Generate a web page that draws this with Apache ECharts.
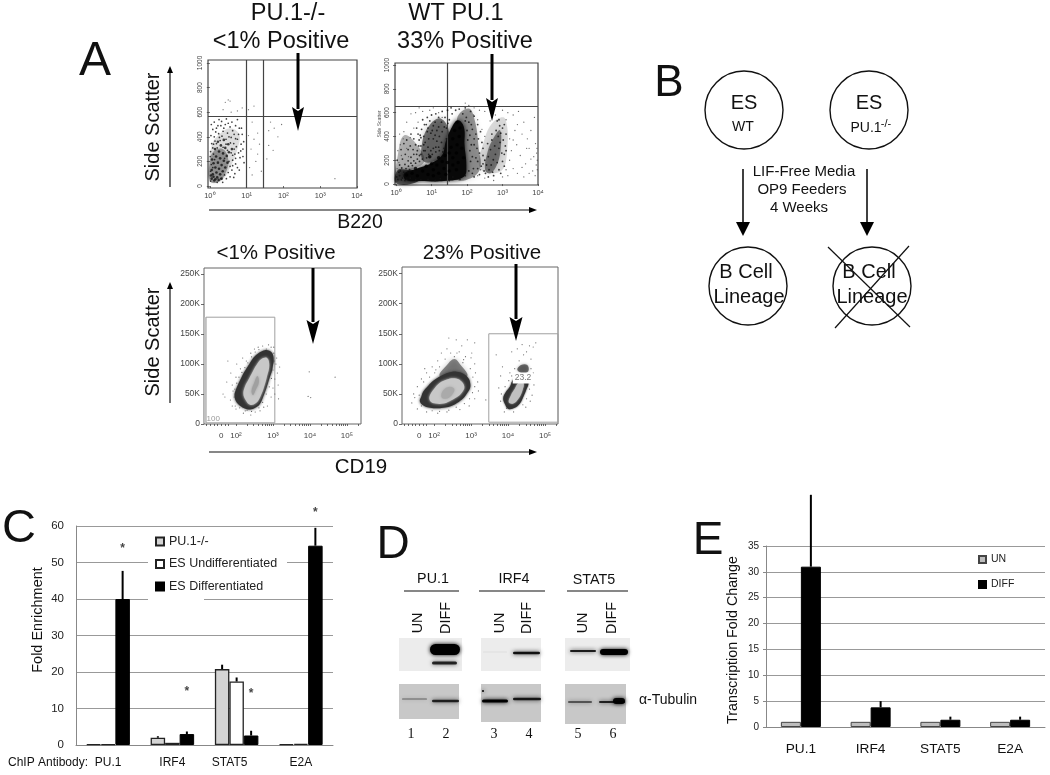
<!DOCTYPE html>
<html>
<head>
<meta charset="utf-8">
<title>PU.1 figure</title>
<script src="https://cdn.jsdelivr.net/npm/echarts@6/dist/echarts.min.js"></script>
<style>
  html, body { margin: 0; padding: 0; background: #fff; }
  #main { width: 1050px; height: 775px; }
</style>
</head>
<body>
<div id="main"></div>
<script>
// panel C
var cCategories = ['PU.1', 'IRF4', 'STAT5', 'E2A'];
var cKnockout = [0.2, 2, 20.8, 0.2];
var cUndiff = [0.2, 0.6, 17.4, 0.3];
var cDiff = [40, 3, 2.6, 54.6];
var cKnockoutTop = [0.2, 2.4, 22, 0.2];
var cUndiffTop = [0.2, 0.6, 18.5, 0.3];
var cDiffTop = [47.7, 3.7, 3.9, 59.5];
var cStars = [54, 14.8, 14.2, 63.8];

// panel E
var eCategories = ['PU.1', 'IRF4', 'STAT5', 'E2A'];
var eUn = [1, 1, 1, 1];
var eDiff = [31, 3.8, 1.4, 1.4];
var eDiffTop = [44.9, 5, 2, 2];

// panel A tick labels
var bXTicks = [0, 1, 2, 3, 4];
var bXLabels = ['10⁰', '10¹', '10²', '10³', '10⁴'];
var bYTicks = [0, 200, 400, 600, 800, 1000];
var cdXTicks = [1.6, 2, 3, 4, 5];
var cdXLabels = ['0', '10²', '10³', '10⁴', '10⁵'];
var cdXMinor = [1.2, 1.3, 1.4, 1.5, 1.6, 1.7, 1.8, 2, 2.3, 2.48, 2.6, 2.7, 2.78, 2.85, 2.9, 2.95, 3, 3.3, 3.48, 3.6, 3.7, 3.78, 3.85, 3.9, 3.95, 4, 4.3, 4.48, 4.6, 4.7, 4.78, 4.85, 4.9, 4.95, 5, 5.3];
var cdYTicks = [0, 50, 100, 150, 200, 250];
var cdYLabels = ['0', '50K', '100K', '150K', '200K', '250K'];

// panel A top left: log10 B220, side scatter
var a1Gates = [1.0, 1.46];
var a1GateY = 570;
var a1Haze = [[0,40],[.3,40],[.55,150],[.75,300],[.8,420],[.55,470],[.3,430],[.05,330]];
var a1Dense = [[0,40],[.25,35],[.45,120],[.5,220],[.35,300],[.1,280],[0,200]];
var a1Core = [[.05,60],[.12,45],[.2,70],[.08,95],[.18,110],[.28,95],[.05,130],[.15,150],[.25,140],[.35,120],[.1,185],[.22,190],[.32,170],[.42,150],[.06,215],[.17,240],[.28,225],[.38,205],[.48,190],[.25,280],[.36,265],[.46,245],[.14,300],[.3,330],[.42,310],[.52,275],[.22,360],[.38,375],[.5,340],[.6,300],[.03,85],[.1,75],[.15,55],[.24,50],[.32,60]];
var a1Mid = [[.02,40],[.08,150],[.3,60],[.4,90],[.5,110],[.55,160],[.62,210],[.68,260],[.72,320],[.75,380],[.66,420],[.58,395],[.48,430],[.36,445],[.24,425],[.12,400],[.05,345],[.02,280],[.1,260],[.2,310],[.33,405],[.44,380],[.56,350],[.65,345],[.78,270],[.82,230],[.7,180],[.6,130],[.45,60],[.55,75],[.68,100],[.75,150],[.85,340],[.88,420],[.8,470],[.7,490],[.55,480],[.42,500],[.3,490],[.18,470],[.08,460],[.03,410],[.6,520],[.45,545],[.25,540],[.12,520],[.75,540],[.9,300],[.93,190],[.35,30],[.2,30],[.62,250],[.48,290],[.4,225],[.1,340],[.28,370],[.52,400],[.16,440],[.04,500],[.32,525],[.66,300],[.58,270],[.7,225],[.62,165],[.52,200],[.44,340],[.36,315],[.26,395],[.18,345],[.08,310],[.01,240],[.04,175],[.13,215],[.78,420],[.7,385],[.62,450],[.5,510],[.38,470],[.22,490],[.14,365],[.84,285],[.9,240],[.8,130],[.65,70],[.02,120],[.86,470],[.92,360]];
var a1Sparse = [[.42,680],[.5,700],[.55,690],[.36,620],[.58,600],[.75,610],[.88,635],[1.2,650],[1.15,520],[1.3,430],[1.2,380],[1.35,340],[1.12,300],[1.3,260],[1.25,200],[1.4,120],[1.15,90],[1.05,410],[1.08,150],[1.6,450],[1.75,470],[1.85,400],[1.6,330],[1.72,290],[1.55,220],[1.95,500],[1.65,520],[3.4,60],[1.05,620]];

// panel A top right: log10 B220, side scatter
var a2GateX = 1.45;
var a2GateY = 655;
var a2Mass = [[.23,89],[.6,131],[.98,173],[1.3,243],[1.4,355],[1.53,453],[1.74,536],[1.91,480],[1.93,327],[1.98,159],[1.91,61],[1.35,25],[.7,25],[.28,33]];
var a2LeftLobe = [[.79,187],[.74,355],[.98,508],[1.26,550],[1.49,438],[1.35,243]];
var a2Tower = [[1.72,550],[2.05,634],[2.23,522],[2.33,299],[2.37,131],[2.09,47],[1.72,47]];
var a2LeftHaze = [[0,20],[.05,243],[.23,410],[.6,327],[.79,187],[.42,117]];
var a2Tail = [[0,6],[.05,117],[.33,117],[.6,103],[.6,20]];
var a2RightLobe = [[2.51,117],[2.58,271],[2.74,383],[2.93,453],[2.95,299],[2.84,159],[2.65,89]];
var a2RightHaze = [[2.37,131],[2.47,355],[2.74,522],[3.07,550],[3.12,243],[2.93,103]];
var a2Core = [[.45,90],[.6,70],[.75,110],[.9,80],[1.05,120],[1.2,90],[1.35,130],[1.5,110],[1.6,160],[.55,130],[.85,150],[1,170],[1.15,160],[1.3,190],[1.45,180],[1.6,220],[1.7,260],[1.5,260],[1.55,310],[1.72,330],[1.6,380],[1.78,400],[1.65,450],[1.8,470],[1.72,520],[1.85,300],[1.9,220],[1.75,180],[1.2,220],[.3,75],[.95,230],[1.7,120],[1.4,80],[1.05,70],[1.38,240]];
var a2Mid = [[.05,40],[.1,70],[.18,50],[.22,100],[.28,130],[.12,110],[.35,150],[.42,175],[.5,195],[.6,210],[.7,250],[.78,280],[.7,320],[.82,350],[.9,310],[.98,280],[1.05,300],[1.12,270],[1.2,310],[.78,400],[.88,440],[.98,427],[1.05,380],[1.15,360],[1.22,400],[.85,500],[.95,530],[1.05,490],[1.15,450],[1.28,350],[1.35,300],[1.3,440],[1.42,380],[1.42,470],[1.5,540],[1.58,590],[1.68,620],[1.78,630],[1.88,590],[1.95,530],[2,450],[2.02,370],[2.08,280],[2.1,190],[2.05,110],[1.95,70],[1.6,60],[1.25,45],[.9,40],[.55,35],[.25,30],[2.3,190],[2.45,300],[2.62,120],[2.68,160],[2.74,204],[2.8,250],[2.72,100],[2.85,180],[2.9,300],[2.93,350],[2.88,400],[2.95,427],[3.02,370],[3.08,320],[2.98,260],[2.6,230],[2.55,160],[2.78,320],[2.66,290],[3,470],[2.92,490],[.65,370],[.72,460],[.75,540],[.6,280],[2.2,330],[2.25,420],[2.12,500],[.02,60],[.08,100],[.16,135],[.25,165],[.34,195],[.42,225],[.5,250],[.58,250],[.64,320],[.68,410],[.8,500],[.88,560],[1,580],[1.12,590],[1.2,560],[1.3,610],[1.45,620],[1.55,640],[1.95,640],[2.1,610],[2.2,570],[2.3,500],[2.38,440],[2.42,350],[2.45,240],[2.4,150],[2.35,80],[2.2,60],[2.5,200],[2.52,90],[2.6,60],[2.75,70],[2.9,120],[3,190],[3.05,250],[3.1,420],[3.05,500],[2.85,530],[2.7,420],[.3,40],[.4,50],[.7,35],[1.1,30],[1.5,30],[1.8,40],[.15,35],[.38,120],[.92,380],[1.1,520],[.78,330],[.66,240],[2.15,230],[2.28,300],[2.18,130],[.03,200],[.1,160],[.18,210],[.26,250],[.34,290],[.14,290],[.22,340],[.3,370],[.4,320],[.48,290],[.55,330],[.5,380],[.42,420],[.62,420],[.58,470],[.7,390],[.82,280],[.92,250],[.86,220],[.74,210],[.66,190],[.55,175],[.46,155],[1.02,250],[1.12,310],[1.22,280],[1.32,270],[.9,470],[1.02,450],[1.1,410],[1.2,480],[1.28,520],[1.36,480],[1.38,560],[1.46,510],[1.98,560],[2.05,520],[2.15,460],[2.2,380],[2.12,330],[2.25,220],[2.3,130],[2.15,90],[2.08,410],[2.32,380],[2.35,260],[2.45,170],[2.48,110],[2.58,340],[2.7,370],[2.82,450],[2.9,540],[3.1,280],[3.05,150],[2.95,90]];
var a2Sparse = [[.08,180],[.15,240],[.3,300],[.4,390],[.22,440],[.5,470],[.62,520],[.55,600],[.42,590],[.12,330],[.35,230],[.75,610],[.95,620],[1.2,600],[1.3,560],[2.18,580],[2.3,540],[2.42,460],[2.5,400],[2.38,120],[2.3,70],[2.5,50],[2.75,30],[3,60],[3.1,120],[3.2,200],[3.25,280],[3.2,380],[3.35,450],[3.4,330],[3.5,240],[3.55,140],[3.6,60],[3.7,380],[3.75,300],[3.8,210],[3.85,110],[3.92,70],[3.95,160],[3.96,260],[3.93,340],[3.8,450],[3.6,520],[3.3,580],[3.1,540],[2.8,580],[2.5,610],[2.2,640],[1.95,680],[2.05,660],[3.55,420],[3.45,610],[3.9,560],[.03,130],[.02,90],[.05,280],[3.15,70],[3.3,130],[3.42,90],[3.65,170],[3.75,90],[3.88,230],[3.98,120],[3.98,200],[3.97,300],[3.3,370],[3.42,500],[3.68,300],[3.15,600],[.2,380],[.1,420],[.3,520],[.65,640],[1.05,640],[2.65,530],[2.35,620],[3,620]];

// panel A bottom left: CD19 decades, side scatter in K
var a3Gates = [1.19, 3.05, 2, 178];
var a3Strip = [1.135, 1.19, 2, 178];
var a3Outer = [[2.12,30],[2,38],[1.96,48],[1.99,56],[2.05,65],[2.12,74],[2.19,83],[2.26,90],[2.33,97],[2.42,106],[2.53,114],[2.66,120],[2.78,123],[2.9,122],[2.99,117],[3.02,106],[3,98],[2.97,88],[2.92,79],[2.86,67],[2.79,54],[2.72,43],[2.64,33],[2.52,27],[2.38,24],[2.24,26]];
var a3Inner = [[2.26,40],[2.2,50],[2.24,62],[2.34,74],[2.44,86],[2.55,98],[2.68,108],[2.84,110],[2.9,98],[2.84,80],[2.76,62],[2.66,46],[2.54,35],[2.38,32]];
var a3Centre = [[2.42,55],[2.5,70],[2.58,80],[2.62,70],[2.52,55],[2.46,48]];
var a3Sparse = [[1.7,45],[1.85,40],[1.9,30],[2,25],[2.2,18],[2.4,15],[2.65,22],[2.85,30],[2.95,45],[3,60],[3.05,75],[3.12,85],[3.18,95],[3.1,110],[3.02,128],[2.88,132],[2.72,130],[2.5,125],[2.4,118],[2.28,105],[2.12,92],[2,78],[1.9,65],[1.75,70],[1.78,105],[1.65,50],[1.92,55],[2.02,100],[2.82,125],[2.95,128],[3.05,50],[3.15,42],[3.98,87],[4.68,78],[3.95,46],[4.02,44],[2.6,128],[2.18,110],[1.98,30],[2.75,28],[3.08,100],[3.14,65],[1.86,85],[2.25,22],[2.52,20],[1.95,45],[1.97,58],[2.02,68],[2.08,78],[2.16,86],[2.24,94],[2.32,102],[2.42,112],[2.52,120],[2.62,124],[3.02,118],[3.03,105],[3,90],[2.96,76],[2.9,62],[2.82,50],[2.72,36],[2.62,27],[2.42,21],[2.3,23],[2.1,27]];

// panel A bottom right: CD19 decades, side scatter in K
var a4Gates = [3.48, 5.35, 3, 150];
var a4LeftOuter = [[1.62,37],[1.66,46],[1.71,54],[1.82,62],[1.94,70],[2.1,77],[2.25,82],[2.43,86],[2.61,87],[2.78,84],[2.93,76],[2.98,67],[2.97,59],[2.88,50],[2.79,43],[2.62,35],[2.43,29],[2.25,27],[2.07,26],[1.9,27],[1.76,29]];
var a4LeftFringe = [[2.15,80],[2.35,98],[2.55,108],[2.72,98],[2.9,80],[2.5,76]];
var a4LeftInner = [[1.9,38],[1.88,46],[2,58],[2.15,68],[2.35,74],[2.55,76],[2.72,72],[2.82,62],[2.75,52],[2.6,44],[2.42,38],[2.25,34],[2.05,34]];
var a4LeftCentre = [[2.2,45],[2.25,56],[2.42,62],[2.55,58],[2.48,48],[2.32,42]];
var a4RightOuter = [[3.92,33],[3.87,43],[3.95,54],[4.05,62],[4.12,72],[4.22,76],[4.46,76],[4.55,68],[4.5,58],[4.42,46],[4.32,34],[4.18,27],[4.01,25]];
var a4RightInner = [[4.02,36],[4.08,48],[4.18,58],[4.28,68],[4.42,68],[4.38,54],[4.28,42],[4.14,34]];
var a4RightTop = [[4.25,90],[4.35,98],[4.52,98],[4.55,88],[4.4,84]];
var a4Sparse = [[1.4,35],[1.45,50],[1.55,62],[1.66,75],[1.8,85],[1.95,95],[2.1,105],[2.2,118],[2.35,125],[2.4,143],[2.75,130],[2.9,140],[3.1,135],[3.02,118],[2.85,112],[2.68,120],[2.55,112],[3.1,100],[3.12,85],[3.18,70],[3.2,55],[3.1,42],[2.95,30],[2.7,24],[2.35,20],[2.1,18],[1.8,20],[1.55,25],[1.48,44],[1.75,92],[2.02,85],[2.6,140],[3.4,40],[3.68,115],[3.8,80],[3.75,60],[3.85,95],[4.3,105],[4.42,115],[4.5,120],[4.62,108],[4.68,128],[4.75,135],[4.58,130],[4.38,132],[4.25,125],[4.1,120],[4.05,85],[4.68,85],[4.7,65],[4.65,48],[4.6,38],[3.9,20],[4.15,20],[4.48,28],[2.8,107],[3,110],[1.6,48],[1.72,70],[1.88,78],[2.05,90],[2.15,95],[2.3,108],[2.45,118],[2.62,118],[2.78,102],[2.98,92],[3.05,78],[3.1,62],[3.04,52],[2.96,42],[2.82,34],[2.6,28],[2.4,23],[2.15,21],[1.95,22],[1.66,30],[3.8,38],[3.82,50],[3.92,62],[4.02,72],[4.1,80],[4.18,92],[4.62,92],[4.62,74],[4.58,58],[4.5,42],[4.4,32],[3.96,26]];

// panel D, lane units along the gel
var blotPanelsTop = [[4,67,3,36],[86,146,3,36],[170,235,3,36]];
var blotPanelsBottom = [[4,64,49,84],[86,146,49,87],[170,231,49,89]];
var blotBands = [[35,65,14.5,11,1],[37,62,28,3,.8],[88,112,17,1,.06],[118,145,18,2.5,.9],[175,201,16,2,.85],[205,233,17,6,1],[7,32,64,1,.5],[37,64,66,2.5,.8],[87,113,66,3,1],[118,146,64,2.5,.85],[173,197,67,1.5,.7],[204,230,67,2,.8],[218,230,66,6,.95],[87,89,56,2,1]];

var font = '"Liberation Sans", Arial, sans-serif';
var myChart = echarts.init(document.getElementById('main'), null, { renderer: 'canvas' });

function lookup(ticks, labels) {
  return function(v) {
    for (var i = 0; i < ticks.length; i++) {
      if (Math.abs(ticks[i] - v) < 1e-6) return labels[i];
    }
    return '';
  };
}

function flowX(idx, min, max, ticks, labels, minorTicks) {
  return {
    type: 'value', gridIndex: idx, min: min, max: max,
    splitLine: { show: false }, axisLine: { show: false },
    axisTick: { show: true, length: 2, lineStyle: { color: '#444', width: 0.8 }, customValues: minorTicks || ticks },
    axisLabel: { show: true, customValues: ticks, formatter: lookup(ticks, labels), fontSize: idx < 5 ? 7.5 : 8, color: '#444', margin: idx < 5 ? 4 : 8, fontFamily: font }
  };
}

function flowY(idx, min, max, ticks, labels, rotate, extra) {
  var ax = {
    type: 'value', gridIndex: idx, min: min, max: max,
    splitLine: { show: false }, axisLine: { show: false },
    axisTick: { show: true, length: 3, lineStyle: { color: '#444', width: 0.8 }, customValues: ticks },
    axisLabel: { show: true, customValues: ticks, formatter: lookup(ticks, labels), fontSize: rotate ? 6.5 : 8.5, rotate: rotate, color: '#444', margin: 4, fontFamily: font }
  };
  if (extra) for (var k in extra) ax[k] = extra[k];
  return ax;
}

function dots(name, idx, data, size, color, extra) {
  var s = {
    name: name, type: 'scatter', xAxisIndex: idx, yAxisIndex: idx, data: data,
    symbol: 'circle', symbolSize: size, itemStyle: { color: color }, silent: true, clip: true, z: 5
  };
  if (extra) for (var k in extra) s[k] = extra[k];
  return s;
}

// density contour, drawn as a blurred polygon through the outline values
function contour(name, idx, outline, color, blur, z) {
  return {
    name: name, type: 'custom', xAxisIndex: idx, yAxisIndex: idx, silent: true, z: z || 3, data: [outline[0]],
    renderItem: function(params, api) {
      return {
        type: 'polygon',
        shape: { points: outline.map(function(p) { return api.coord(p); }), smooth: 0.4 },
        style: { fill: color, shadowBlur: blur, shadowColor: color }
      };
    }
  };
}

function gateLines(xs, y) {
  var d = xs.map(function(x) { return { xAxis: x }; });
  d.push({ yAxis: y });
  return { symbol: 'none', silent: true, animation: false, label: { show: false }, lineStyle: { color: '#444', width: 1.2, type: 'solid' }, data: d };
}

function gateBox(g, label) {
  return {
    silent: true, animation: false,
    itemStyle: { color: 'rgba(255,255,255,0)', borderColor: '#a0a0a0', borderWidth: 1 },
    label: { show: !!label, position: 'insideBottomLeft', color: '#999', fontSize: 8, distance: 1, fontFamily: font },
    data: [[{ name: label || '', xAxis: g[0], yAxis: g[3] }, { xAxis: g[1], yAxis: g[2] }]]
  };
}

function errorSeries(grid, values, tops, offset, width) {
  return {
    name: 'err' + grid + offset, type: 'custom', xAxisIndex: grid, yAxisIndex: grid, silent: true, z: 4,
    data: values.map(function(v, i) { return [i, v, tops[i]]; }),
    renderItem: function(params, api) {
      var a = api.coord([api.value(0), api.value(1)]);
      var b = api.coord([api.value(0), api.value(2)]);
      return { type: 'line', shape: { x1: a[0] + offset, y1: a[1], x2: a[0] + offset, y2: b[1] }, style: { stroke: '#000', lineWidth: width } };
    },
    clip: false
  };
}

function blotSeries(name, panels, color) {
  return {
    name: name, type: 'custom', xAxisIndex: 2, yAxisIndex: 2, silent: true, z: 2, data: panels,
    renderItem: function(params, api) {
      var a = api.coord([api.value(0), api.value(2)]);
      var b = api.coord([api.value(1), api.value(3)]);
      return { type: 'rect', shape: { x: a[0], y: a[1], width: b[0] - a[0], height: b[1] - a[1] }, style: { fill: color } };
    }
  };
}

// annotation helpers (layout only, no data)
function txt(x, y, s, size, opt) {
  opt = opt || {};
  return {
    type: 'text', x: x, y: y, rotation: opt.rot || 0, silent: true, z: opt.z || 100,
    style: {
      x: 0, y: 0, text: s, fill: opt.color || '#111', align: opt.align || 'center', verticalAlign: 'middle',
      font: (opt.weight || '') + ' ' + size + 'px ' + (opt.family || font),
      backgroundColor: opt.bg, padding: opt.pad
    }
  };
}
function seg(x1, y1, x2, y2, w, color) {
  return { type: 'line', silent: true, z: 100, shape: { x1: x1, y1: y1, x2: x2, y2: y2 }, style: { stroke: color || '#111', lineWidth: w } };
}
function tri(pts) {
  return { type: 'polygon', silent: true, z: 100, shape: { points: pts }, style: { fill: '#000' } };
}
function downArrow(x, y1, base, tip, half, w, notch) {
  return [seg(x, y1, x, base + 2, w, '#000'), tri([[x - half, base], [x, base + notch], [x + half, base], [x, tip]])];
}
function circle(cx, cy) {
  return { type: 'circle', silent: true, z: 100, shape: { cx: cx, cy: cy, r: 39 }, style: { fill: 'rgba(255,255,255,0)', stroke: '#111', lineWidth: 1.4 } };
}
var serif = '"Liberation Serif", serif';
var up = Math.PI / 2;

var gfx = [
  // panel letters
  txt(95, 62, 'A', 48), txt(669, 84, 'B', 44), txt(19, 529, 'C', 47), txt(393, 545, 'D', 46), txt(708, 541, 'E', 46),
  // A titles
  txt(288, 14, 'PU.1-/-', 23.5), txt(281, 42, '<1% Positive', 23.5), txt(456, 14, 'WT PU.1', 23.5), txt(465, 42, '33% Positive', 23.5),
  txt(153, 127, 'Side Scatter', 20, { rot: up }), txt(360, 223, 'B220', 19.5),
  txt(276, 253, '<1% Positive', 20.5), txt(482, 253, '23% Positive', 20.5),
  txt(153, 342, 'Side Scatter', 20, { rot: up }), txt(361, 467, 'CD19', 20.5),
  txt(523, 378, '23.2', 8.5, { color: '#777', bg: '#fff', pad: [1, 2] }),
  // axis arrows
  seg(170, 187, 170, 72, 1.2), tri([[167, 73], [173, 73], [170, 66]]),
  seg(170, 403, 170, 288, 1.2), tri([[167, 289], [173, 289], [170, 282]]),
  seg(209, 210, 530, 210, 1.2), tri([[529, 207], [529, 213], [537, 210]]),
  seg(209, 452, 530, 452, 1.2), tri([[529, 449], [529, 455], [537, 452]]),
  // B diagram
  circle(744, 110), circle(869, 110), circle(748, 286), circle(872, 286),
  txt(744, 103, 'ES', 20), txt(743, 127, 'WT', 14), txt(869, 103, 'ES', 20),
  txt(866, 128, 'PU.1', 14), txt(886, 124, '-/-', 11),
  txt(804, 172, 'LIF-Free Media', 15), txt(802, 190, 'OP9 Feeders', 15), txt(799, 208, '4 Weeks', 15),
  txt(746, 272, 'B Cell', 20), txt(749, 297, 'Lineage', 20), txt(869, 272, 'B Cell', 20), txt(872, 297, 'Lineage', 20),
  seg(828, 247, 910, 327, 1.2), seg(909, 246, 835, 328, 1.2),
  // D labels
  txt(433, 579, 'PU.1', 14.3), txt(514, 579, 'IRF4', 14.3), txt(594, 580, 'STAT5', 14.3),
  seg(404, 591, 459, 591, 1.2), seg(479, 591, 545, 591, 1.2), seg(567, 591, 628, 591, 1.2),
  txt(418, 623, 'UN', 14.3, { rot: up }), txt(446, 618, 'DIFF', 14.3, { rot: up }),
  txt(500, 623, 'UN', 14.3, { rot: up }), txt(527, 618, 'DIFF', 14.3, { rot: up }),
  txt(583, 623, 'UN', 14.3, { rot: up }), txt(612, 618, 'DIFF', 14.3, { rot: up }),
  txt(411, 734, '1', 14, { family: serif }), txt(446, 734, '2', 14, { family: serif }),
  txt(494, 734, '3', 14, { family: serif }), txt(529, 734, '4', 14, { family: serif }),
  txt(578, 734, '5', 14, { family: serif }), txt(613, 734, '6', 14, { family: serif }),
  txt(639, 700, 'α-Tubulin', 14, { align: 'left' }),
  // C / E extras
  txt(8, 763, 'ChIP Antibody:', 12, { align: 'left' }),
  txt(38, 620, 'Fold Enrichment', 14.5, { rot: up }),
  txt(733, 640, 'Transcription Fold Change', 14.3, { rot: up }),
  // white space behind the legend of C
  { type: 'rect', silent: true, z: 1, shape: { x: 148, y: 530, width: 139, height: 60 }, style: { fill: '#fff' } },
  { type: 'rect', silent: true, z: 1, shape: { x: 148, y: 590, width: 56, height: 18 }, style: { fill: '#fff' } }
];
gfx = gfx.concat(downArrow(298, 53, 107, 131, 6, 3, 4), downArrow(492, 54, 98, 121, 6, 3, 4),
  downArrow(313, 268, 320, 344, 6.5, 3, 4), downArrow(516, 264, 317, 341, 6.5, 3, 4),
  downArrow(743, 169, 222, 236, 7, 1.5, 0), downArrow(867, 169, 222, 236, 7, 1.5, 0));

var stripBox = gateBox(a3Gates, '100');
stripBox.data.push([{ xAxis: a3Strip[0], yAxis: a3Strip[3], itemStyle: { color: '#c0c0c0', borderWidth: 0 } }, { xAxis: a3Strip[1], yAxis: a3Strip[2] }]);

var option = {
  animation: false,
  backgroundColor: '#fff',
  textStyle: { fontFamily: font },
  graphic: { elements: gfx },
  legend: [{
    data: ['PU.1-/-', 'ES Undifferentiated', 'ES Differentiated'], orient: 'vertical', left: 150, top: 530,
    itemWidth: 8, itemHeight: 8, itemGap: 9.5, selectedMode: false, icon: 'rect',
    textStyle: { fontSize: 12.5, color: '#222', fontFamily: font }
  }, {
    data: ['UN', 'DIFF'], orient: 'vertical', left: 973, top: 549,
    itemWidth: 7, itemHeight: 7, itemGap: 14, selectedMode: false, icon: 'rect',
    textStyle: { fontSize: 10.5, color: '#222', fontFamily: font }
  }],
  grid: [
    { left: 76, top: 526, width: 257, height: 219 },
    { left: 766, top: 546, width: 279, height: 181 },
    { left: 395, top: 635, width: 240, height: 95 },
    { left: 208, top: 60, width: 149, height: 128, show: true, borderColor: '#444', borderWidth: 1.2 },
    { left: 395, top: 63, width: 143, height: 122, show: true, borderColor: '#444', borderWidth: 1.2 },
    { left: 204, top: 268, width: 157, height: 156, show: true, borderColor: '#666', borderWidth: 1 },
    { left: 402, top: 267, width: 156, height: 157, show: true, borderColor: '#666', borderWidth: 1 }
  ],
  xAxis: [
    {
      type: 'category', gridIndex: 0, data: cCategories,
      axisLine: { lineStyle: { color: '#888' } }, axisTick: { lineStyle: { color: '#888' }, length: 4 },
      axisLabel: {
        interval: 0, hideOverlap: false,
        fontSize: 12, color: '#111', margin: 12, fontFamily: font,
        formatter: function(v) { return v === 'STAT5' ? '{s|STAT5}' : v; },
        rich: { s: { fontSize: 12, color: '#111', fontFamily: font, padding: [0, 14, 0, 0] } }
      }
    },
    {
      type: 'category', gridIndex: 1, data: eCategories,
      axisLine: { lineStyle: { color: '#888' } }, axisTick: { lineStyle: { color: '#888' }, length: 4 },
      axisLabel: { interval: 0, fontSize: 13.7, color: '#111', margin: 15, fontFamily: font }
    },
    { type: 'value', gridIndex: 2, min: 0, max: 240, show: false },
    flowX(3, -0.05, 4, bXTicks, bXLabels),
    flowX(4, -0.03, 4, bXTicks, bXLabels),
    flowX(5, 1.135, 5.38, cdXTicks, cdXLabels, cdXMinor),
    flowX(6, 1.135, 5.35, cdXTicks, cdXLabels, cdXMinor)
  ],
  yAxis: [
    {
      type: 'value', gridIndex: 0, min: 0, max: 60, interval: 10,
      axisLine: { show: true, lineStyle: { color: '#888' } }, axisTick: { show: false },
      splitLine: { lineStyle: { color: '#999', width: 1.2 } },
      axisLabel: { fontSize: 11.5, color: '#222', margin: 12, fontFamily: font }
    },
    {
      type: 'value', gridIndex: 1, min: 0, max: 35, interval: 5,
      axisLine: { show: true, lineStyle: { color: '#888' } }, axisTick: { show: true, length: 3, lineStyle: { color: '#888' } },
      splitLine: { lineStyle: { color: '#999', width: 1.2 } },
      axisLabel: { fontSize: 10, color: '#222', margin: 7, fontFamily: font }
    },
    { type: 'value', gridIndex: 2, min: 0, max: 95, inverse: true, show: false },
    flowY(3, -16, 1024, bYTicks, bYTicks.map(String), 90),
    flowY(4, -8, 1017, bYTicks, bYTicks.map(String), 90, { name: 'Side Scatter', nameLocation: 'middle', nameGap: 13, nameRotate: 90, nameTextStyle: { fontSize: 5, color: '#555' } }),
    flowY(5, 0, 260, cdYTicks, cdYLabels, 0),
    flowY(6, 0, 261, cdYTicks, cdYLabels, 0)
  ],
  series: [
    { name: 'PU.1-/-', type: 'bar', xAxisIndex: 0, yAxisIndex: 0, data: cKnockout, barWidth: 14.5, barGap: 0, itemStyle: { color: '#d4d4d4', borderColor: '#222', borderWidth: 1.3 }, silent: true },
    { name: 'ES Undifferentiated', type: 'bar', xAxisIndex: 0, yAxisIndex: 0, data: cUndiff, barWidth: 14.5, barGap: 0, itemStyle: { color: '#fff', borderColor: '#222', borderWidth: 1.3 }, silent: true },
    { name: 'ES Differentiated', type: 'bar', xAxisIndex: 0, yAxisIndex: 0, data: cDiff, barWidth: 14.5, barGap: 0, itemStyle: { color: '#000', borderColor: '#000', borderWidth: 1 }, silent: true },
    errorSeries(0, cKnockout, cKnockoutTop, -14.5, 2),
    errorSeries(0, cUndiff, cUndiffTop, 0, 2),
    errorSeries(0, cDiff, cDiffTop, 14.5, 2),
    {
      name: 'sig', type: 'scatter', xAxisIndex: 0, yAxisIndex: 0, silent: true, clip: false, symbolSize: 0,
      data: cCategories.map(function(c, i) { return [i, cStars[i]]; }),
      label: { show: true, position: 'inside', offset: [14.5, 1], formatter: '*', fontSize: 12, fontWeight: 'bold', color: '#111' }, z: 5
    },
    { name: 'UN', type: 'bar', xAxisIndex: 1, yAxisIndex: 1, data: eUn, barWidth: 20, barGap: 0, itemStyle: { color: '#bdbdbd', borderColor: '#444', borderWidth: 1 }, silent: true },
    { name: 'DIFF', type: 'bar', xAxisIndex: 1, yAxisIndex: 1, data: eDiff, barWidth: 20, barGap: 0, itemStyle: { color: '#000', borderColor: '#000', borderWidth: 1 }, silent: true },
    errorSeries(1, eDiff, eDiffTop, 10, 2),
    blotSeries('blotTop', blotPanelsTop, '#ececec'),
    blotSeries('blotBottom', blotPanelsBottom, '#c8c8c8'),
    {
      name: 'bands', type: 'custom', xAxisIndex: 2, yAxisIndex: 2, silent: true, z: 3, data: blotBands,
      renderItem: function(params, api) {
        var a = api.coord([api.value(0), api.value(2) - api.value(3) / 2]);
        var b = api.coord([api.value(1), api.value(2) + api.value(3) / 2]);
        var c = 'rgba(0,0,0,' + api.value(4) + ')';
        return { type: 'rect', shape: { x: a[0], y: a[1], width: b[0] - a[0], height: b[1] - a[1], r: (b[1] - a[1]) / 2 }, style: { fill: c, shadowBlur: 4, shadowColor: c } };
      }
    },
    contour('a1Haze', 3, a1Haze, 'rgba(0,0,0,0.12)', 5),
    contour('a1Dense', 3, a1Dense, 'rgba(0,0,0,0.3)', 5),
    dots('a1Sparse', 3, a1Sparse, 1.3, '#555', { markLine: gateLines(a1Gates, a1GateY) }),
    dots('a1Mid', 3, a1Mid, 1.7, '#111'),
    dots('a1Core', 3, a1Core, 2.6, '#111'),
    contour('a2RightHaze', 4, a2RightHaze, 'rgba(0,0,0,0.14)', 6),
    contour('a2LeftHaze', 4, a2LeftHaze, 'rgba(0,0,0,0.28)', 6),
    contour('a2RightLobe', 4, a2RightLobe, 'rgba(0,0,0,0.42)', 5),
    contour('a2Tower', 4, a2Tower, 'rgba(0,0,0,0.38)', 6),
    contour('a2LeftLobe', 4, a2LeftLobe, 'rgba(0,0,0,0.5)', 6),
    contour('a2Tail', 4, a2Tail, 'rgba(0,0,0,0.6)', 4),
    contour('a2Mass', 4, a2Mass, '#080808', 5, 4),
    dots('a2Sparse', 4, a2Sparse, 1.3, '#444', { markLine: gateLines([a2GateX], a2GateY) }),
    dots('a2Mid', 4, a2Mid, 1.8, '#111'),
    dots('a2Core', 4, a2Core, 3.5, '#000'),
    contour('a3Outer', 5, a3Outer, '#333', 3),
    contour('a3Inner', 5, a3Inner, '#c8c8c8', 3, 4),
    contour('a3Centre', 5, a3Centre, '#a0a0a0', 3, 4),
    dots('a3Sparse', 5, a3Sparse, 1.2, '#444', { markArea: stripBox }),
    contour('a4LeftFringe', 6, a4LeftFringe, 'rgba(30,30,30,0.5)', 5),
    contour('a4LeftOuter', 6, a4LeftOuter, '#333', 3),
    contour('a4LeftInner', 6, a4LeftInner, '#c8c8c8', 3, 4),
    contour('a4LeftCentre', 6, a4LeftCentre, '#aaa', 3, 4),
    contour('a4RightTop', 6, a4RightTop, 'rgba(30,30,30,0.6)', 3),
    contour('a4RightOuter', 6, a4RightOuter, '#333', 2),
    contour('a4RightInner', 6, a4RightInner, '#c0c0c0', 2, 4),
    dots('a4Sparse', 6, a4Sparse, 1.2, '#444', { markArea: gateBox(a4Gates) })
  ]
};
myChart.setOption(option);
</script>
</body>
</html>
